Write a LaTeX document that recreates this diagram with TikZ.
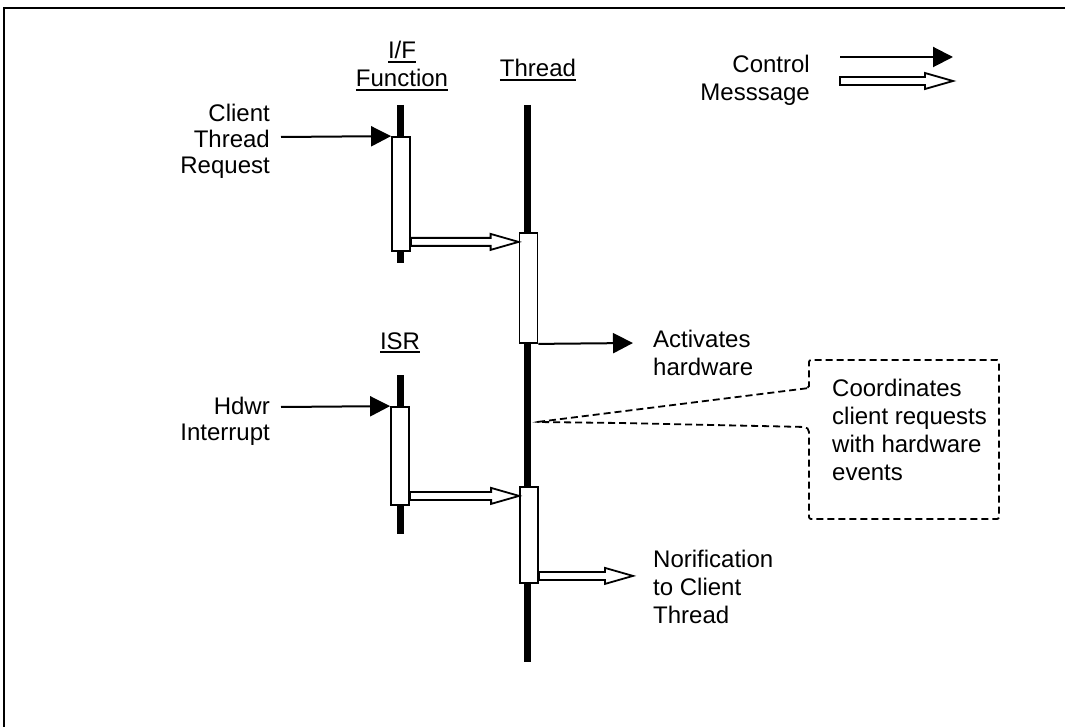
\documentclass[tikz,border=0pt]{standalone}
\usepackage{fontspec}
\setmainfont{Liberation Sans}
\usetikzlibrary{arrows.meta,calc}
\newcommand\ulhead[1]{\setbox0\hbox{#1}\rlap{\rule[-4pt]{\wd0}{1.8pt}}\box0}
\begin{document}
\begin{tikzpicture}[x=1pt,y=-1pt,
	font=\fontsize{24}{28}\selectfont,
	lbl/.style={inner sep=0pt,align=left},
	sidelbl/.style={inner sep=0pt,align=right,anchor=base east,font=\fontsize{24}{26}\selectfont},
	lifeline/.style={line width=7pt},
	actbox/.style={draw,fill=white,line width=1.8pt,minimum width=18pt,inner sep=0pt},
	ctrl/.style={line width=2pt,-{Triangle[length=20pt,width=20pt]}},
	msg/.style={line width=1.8pt,fill=white,to path={let \p1=(\tikztostart),\p2=(\tikztotarget) in
		(\x1,\y1+4pt) -- (\x2-28pt,\y1+4pt) -- (\x2-28pt,\y1+8pt) -- (\x2,\y1)
		-- (\x2-28pt,\y1-8pt) -- (\x2-28pt,\y1-4pt) -- (\x1,\y1-4pt) -- cycle}},
	note/.style={dash pattern=on 7pt off 4pt,line width=1.8pt}]
	\useasboundingbox (0,0) rectangle (1065,727);
	\draw[line width=2pt] (4,727) -- (4,8) -- (1065,8);

	% lifelines
	\node[lbl,align=center,anchor=base] (ifhead) at (402,87) {\ulhead{I/F}\\\ulhead{Function}};
	\node[lbl,anchor=base] (thhead) at (538,77) {\ulhead{Thread}};
	\node[lbl,anchor=base] (isrhead) at (400,349) {\ulhead{ISR}};
	\draw[lifeline] (400,105) -- (400,263);
	\draw[lifeline] (527,105) -- (527,662);
	\draw[lifeline] (400,375) -- (400,534);

	% activation boxes
	\node[actbox,minimum height=114pt] (ifact) at (401,194) {};
	\node[actbox,minimum height=110pt] (thact1) at (528.5,288) {};
	\node[actbox,minimum height=98pt] (isract) at (400,456) {};
	\node[actbox,minimum height=96pt] (thact2) at (529,535) {};

	% incoming events
	\node[sidelbl] (clientreq) at (270,174) {Client\\Thread\\Request};
	\coordinate (clientin) at (281,137);
	\draw[ctrl] (clientin) -- (ifact.north west);
	\node[sidelbl] (hdwrint) at (270,440) {Hdwr\\Interrupt};
	\coordinate (hdwrin) at (281,407);
	\draw[ctrl] (hdwrin) -- (isract.north west);

	% messages
	\draw[msg] ([yshift=10pt]ifact.south east) to (thact1.west);
	\draw[msg] ([yshift=10pt]isract.south east) to (thact2.west);
	\coordinate (hwend) at (633,343);
	\draw[ctrl] (thact1.south east) -- (hwend);
	\node[lbl,anchor=base west] (hwlabel) at (653,375) {Activates\\hardware};
	\coordinate (notifend) at (633,575);
	\draw[msg] ([yshift=8pt]thact2.south east) to (notifend);
	\node[lbl,anchor=base west] (notiflabel) at (653,623) {Norification\\to Client\\Thread};

	% note
	\node[lbl,anchor=base west] (coordtext) at (832,480) {Coordinates\\client requests\\with hardware\\events};
	\coordinate (notetip) at (537,422);
	\draw[note,rounded corners=2pt] (809,388) -- (notetip) -- (620,423) -- (806,427) -- (809,430)
		-- (809,519) -- (999,519) -- (999,360) -- (809,360) -- cycle;

	% legend
	\node[sidelbl,font=\fontsize{24}{28}\selectfont] (legend) at (810,101) {Control\\Messsage};
	\coordinate (ctrla) at (840,57);
	\coordinate (ctrlb) at (953,57);
	\draw[ctrl] (ctrla) -- (ctrlb);
	\coordinate (msga) at (840,81);
	\coordinate (msgb) at (953,81);
	\draw[msg] (msga) to (msgb);
\end{tikzpicture}
\end{document}
